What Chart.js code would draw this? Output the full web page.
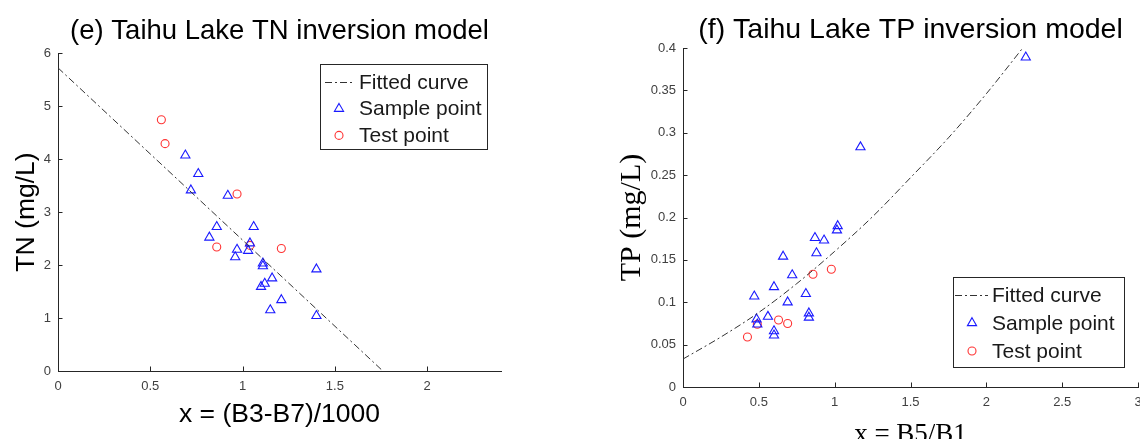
<!DOCTYPE html>
<html>
<head>
<meta charset="utf-8">
<title>Taihu Lake TN / TP inversion models</title>
<script src="https://cdn.jsdelivr.net/npm/chart.js@4.4.1/dist/chart.umd.min.js"></script>
<style>
  html, body { margin: 0; padding: 0; background: #fff; }
  body { width: 1140px; height: 439px; position: relative; overflow: hidden; }
  .panel { position: absolute; top: 0; height: 439px; }
  #tnPanel { left: 0; width: 560px; }
  /* wider than the window on purpose: the last x label is cut off like in the figure */
  #tpPanel { left: 570px; width: 600px; }
</style>
</head>
<body>
<div class="panel" id="tnPanel"><canvas id="tnChart"></canvas></div>
<div class="panel" id="tpPanel"><canvas id="tpChart"></canvas></div>
<script>
// (e) TN model
const tnSampleX = [0.69, 0.76, 0.72, 0.92, 0.86, 1.06, 0.82, 0.97, 0.96, 1.03, 1.04, 1.11, 1.11, 1.16, 1.12, 1.10, 1.21, 1.15, 1.40, 1.40];
const tnSampleY = [4.07, 3.72, 3.41, 3.31, 2.72, 2.72, 2.52, 2.29, 2.15, 2.27, 2.41, 2.03, 1.98, 1.75, 1.65, 1.59, 1.34, 1.15, 1.92, 1.04];
const tnTestX = [0.56, 0.58, 0.97, 0.86, 1.04, 1.21];
const tnTestY = [4.74, 4.29, 3.34, 2.34, 2.37, 2.31];
const tnFitX = [0, 1.76];
const tnFitY = [5.72, 0];

// (f) TP model
const tpSampleX = [2.26, 1.17, 1.02, 1.015, 0.87, 0.93, 0.88, 0.66, 0.72, 0.60, 0.47, 0.81, 0.69, 0.83, 0.83, 0.56, 0.485, 0.49, 0.60, 0.60];
const tpSampleY = [0.389, 0.283, 0.190, 0.185, 0.176, 0.173, 0.158, 0.154, 0.132, 0.118, 0.107, 0.110, 0.100, 0.087, 0.082, 0.083, 0.080, 0.074, 0.066, 0.061];
const tpTestX = [0.425, 0.49, 0.63, 0.69, 0.857, 0.978];
const tpTestY = [0.059, 0.074, 0.079, 0.075, 0.133, 0.139];
const tpFitX = [0, 0.25, 0.5, 0.75, 1, 1.25, 1.5, 1.75, 2, 2.24];
const tpFitY = [0.033, 0.059, 0.088, 0.122, 0.160, 0.201, 0.247, 0.294, 0.346, 0.400];

const legendLabels = ['Fitted curve', 'Sample point', 'Test point'];

const AXIS_COLOR = '#262626';
const TICK_COLOR = '#404040';
const SANS = '"Liberation Sans", Arial, Helvetica, sans-serif';
const SERIF = '"Liberation Serif", "Times New Roman", serif';
const DASH_DOT = [7, 3, 2, 3];

function toPoints(xs, ys) {
    return xs.map((x, i) => ({ x: x, y: ys[i] }));
}

function fmtTick(v) {
    return String(Number(v.toFixed(3)));
}

function drawMarker(ctx, style, x, y, r, color, width) {
    ctx.save();
    ctx.strokeStyle = color;
    ctx.lineWidth = width;
    ctx.beginPath();
    if (style === 'triangle') {
        ctx.moveTo(x, y - r);
        ctx.lineTo(x + r * 0.866, y + r * 0.5);
        ctx.lineTo(x - r * 0.866, y + r * 0.5);
        ctx.closePath();
    } else {
        ctx.arc(x, y, r, 0, Math.PI * 2);
    }
    ctx.stroke();
    ctx.restore();
}

// inward ticks, titles and the boxed legend
const panelDecor = {
    id: 'panelDecor',
    afterDraw(chart, args, o) {
        const ctx = chart.ctx;
        const a = chart.chartArea;
        const sx = chart.scales.x;
        const sy = chart.scales.y;
        ctx.save();

        ctx.strokeStyle = AXIS_COLOR;
        ctx.lineWidth = 1;
        ctx.beginPath();
        sx.ticks.forEach(t => {
            const px = Math.round(sx.getPixelForValue(t.value)) + 0.5;
            ctx.moveTo(px, a.bottom);
            ctx.lineTo(px, a.bottom - 4.5);
        });
        sy.ticks.forEach(t => {
            const py = Math.round(sy.getPixelForValue(t.value)) + 0.5;
            ctx.moveTo(a.left, py);
            ctx.lineTo(a.left + 4.5, py);
        });
        ctx.stroke();

        const cx = (a.left + a.right) / 2;
        const cy = (a.top + a.bottom) / 2;
        ctx.fillStyle = '#000';
        ctx.textAlign = 'center';
        ctx.textBaseline = 'middle';

        ctx.font = o.titleFont;
        ctx.fillText(o.title, cx, a.top - o.titleGap);

        ctx.font = o.xFont;
        ctx.fillText(o.xTitle, cx, a.bottom + o.xGap);

        ctx.save();
        ctx.translate(a.left - o.yGap, cy);
        ctx.rotate(-Math.PI / 2);
        ctx.font = o.yFont;
        ctx.fillText(o.yTitle, 0, 0);
        ctx.restore();

        // legend
        const L = o.legend;
        ctx.fillStyle = '#fff';
        ctx.fillRect(L.x, L.y, L.w, L.h);
        ctx.strokeStyle = AXIS_COLOR;
        ctx.lineWidth = 1;
        ctx.strokeRect(L.x + 0.5, L.y + 0.5, L.w, L.h);

        ctx.font = '21px ' + SANS;
        ctx.textAlign = 'left';
        chart.data.datasets.forEach((ds, i) => {
            const ry = L.y + L.first + i * L.step;
            if (ds.showLine) {
                ctx.save();
                ctx.strokeStyle = ds.borderColor;
                ctx.setLineDash(DASH_DOT);
                ctx.beginPath();
                ctx.moveTo(L.x + L.lineFrom, ry + 0.5);
                ctx.lineTo(L.x + L.lineTo, ry + 0.5);
                ctx.stroke();
                ctx.restore();
            } else {
                drawMarker(ctx, ds.pointStyle, L.x + L.marker, ry, ds.pointRadius, ds.borderColor, ds.borderWidth);
            }
            ctx.fillStyle = '#1a1a1a';
            ctx.fillText(ds.label, L.x + L.text, ry + 1);
        });

        ctx.restore();
    }
};

function makeDatasets(fitX, fitY, sx, sy, tx, ty) {
    return [
        {
            label: legendLabels[0],
            data: toPoints(fitX, fitY),
            showLine: true,
            borderColor: '#333333',
            borderWidth: 1,
            borderDash: DASH_DOT,
            pointRadius: 0,
            cubicInterpolationMode: 'monotone',
            fill: false
        },
        {
            label: legendLabels[1],
            data: toPoints(sx, sy),
            pointStyle: 'triangle',
            pointRadius: 5.3,
            borderColor: '#1a1aff',
            backgroundColor: 'rgba(0,0,0,0)',
            borderWidth: 1.1
        },
        {
            label: legendLabels[2],
            data: toPoints(tx, ty),
            pointStyle: 'circle',
            pointRadius: 4,
            borderColor: '#ff3333',
            backgroundColor: 'rgba(0,0,0,0)',
            borderWidth: 1.1
        }
    ];
}

function axisOptions(min, max, step, fitSize, isX) {
    return {
        type: 'linear',
        min: min,
        max: max,
        grid: { display: false, drawTicks: false },
        border: { display: true, color: AXIS_COLOR, width: 1 },
        ticks: {
            stepSize: step,
            includeBounds: false,
            color: TICK_COLOR,
            font: { family: SANS, size: 13 },
            padding: isX ? 8 : 7,
            maxRotation: 0,
            autoSkip: false,
            callback: fmtTick
        },
        afterFit: s => {
            if (isX) s.height = fitSize; else s.width = fitSize;
        }
    };
}

function makeChart(id, datasets, scales, padding, decor) {
    return new Chart(document.getElementById(id).getContext('2d'), {
        type: 'scatter',
        data: { datasets: datasets },
        options: {
            responsive: true,
            maintainAspectRatio: false,
            animation: false,
            layout: { padding: padding },
            plugins: {
                legend: { display: false },
                tooltip: { enabled: false },
                panelDecor: decor
            },
            scales: scales
        },
        plugins: [panelDecor]
    });
}

makeChart('tnChart',
    makeDatasets(tnFitX, tnFitY, tnSampleX, tnSampleY, tnTestX, tnTestY),
    {
        x: axisOptions(0, 2.4, 0.5, 68, true),
        y: axisOptions(0, 6, 1, 58, false)
    },
    { left: 0, top: 53, right: 59, bottom: 0 },
    {
        title: '(e) Taihu Lake TN inversion model',
        titleFont: '27.5px ' + SANS,
        titleGap: 22,
        xTitle: 'x = (B3-B7)/1000',
        xFont: '26.5px ' + SANS,
        xGap: 44,
        yTitle: 'TN (mg/L)',
        yFont: '26.5px ' + SANS,
        yGap: 31,
        legend: { x: 320, y: 64, w: 167, h: 85, first: 18, step: 26.7, lineFrom: 5, lineTo: 35, marker: 19, text: 39 }
    }
);

makeChart('tpChart',
    makeDatasets(tpFitX, tpFitY, tpSampleX, tpSampleY, tpTestX, tpTestY),
    {
        x: axisOptions(0, 3, 0.5, 52, true),
        y: axisOptions(0, 0.4, 0.05, 113, false)
    },
    { left: 0, top: 48, right: 32, bottom: 0 },
    {
        title: '(f) Taihu Lake TP inversion model',
        titleFont: '28.5px ' + SANS,
        titleGap: 18,
        xTitle: 'x = B5/B1',
        xFont: '27px ' + SERIF,
        xGap: 48,
        yTitle: 'TP (mg/L)',
        yFont: '30px ' + SERIF,
        yGap: 51,
        legend: { x: 383, y: 277, w: 171, h: 90, first: 18, step: 28, lineFrom: 2, lineTo: 35, marker: 19, text: 39 }
    }
);
</script>
</body>
</html>
